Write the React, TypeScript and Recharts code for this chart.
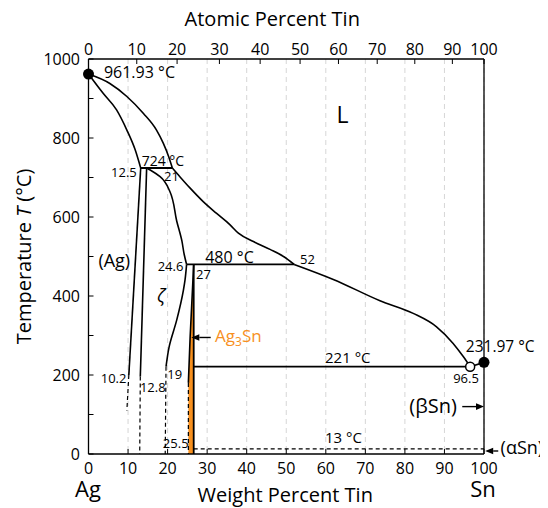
import React from 'react';
import {
  ComposedChart,
  Line,
  Area,
  Scatter,
  XAxis,
  YAxis,
  CartesianGrid,
  ReferenceDot,
  ReferenceLine,
} from 'recharts';

const FONT = '"Open Sans", "Noto Sans", sans-serif';
const ORANGE = '#f7901e';

type P = { x: number; y: number };

// ---- Phase boundaries: x = weight percent Sn, y = temperature (°C)
const liquidusAgSide: P[] = [
  { x: 0, y: 961.93 }, { x: 5.4, y: 938 }, { x: 9.7, y: 905 }, { x: 13.9, y: 862 },
  { x: 17.2, y: 820 }, { x: 18.9, y: 787 }, { x: 20.3, y: 752 }, { x: 21.2, y: 724 },
];
const liquidusMid: P[] = [
  { x: 21.2, y: 724 }, { x: 23.1, y: 702 }, { x: 25.7, y: 673 }, { x: 29.0, y: 639 },
  { x: 32.4, y: 609 }, { x: 35.8, y: 580 }, { x: 37.9, y: 559 }, { x: 41.7, y: 538 },
  { x: 45.9, y: 518 }, { x: 49.3, y: 500 }, { x: 52, y: 480 },
];
const liquidusSnSide: P[] = [
  { x: 52, y: 480 }, { x: 61.9, y: 442 }, { x: 73.7, y: 388 }, { x: 82.1, y: 356 },
  { x: 88.0, y: 322 }, { x: 92.2, y: 280 }, { x: 94.8, y: 246 }, { x: 96.5, y: 221 },
];
const solidusAg: P[] = [
  { x: 0, y: 961.93 }, { x: 3.7, y: 913 }, { x: 7.1, y: 871 }, { x: 9.7, y: 820 },
  { x: 11.8, y: 770 }, { x: 13.2, y: 724 },
];
const solvusAg: P[] = [{ x: 13.2, y: 724 }, { x: 10.2, y: 200 }];
const solvusAgDashed: P[] = [{ x: 10.2, y: 200 }, { x: 9.7, y: 110 }];
const zetaLeft: P[] = [{ x: 14.7, y: 724 }, { x: 13.1, y: 196 }];
const zetaLeftDashed: P[] = [{ x: 13.1, y: 196 }, { x: 12.95, y: 0 }];
const zetaRightUpper: P[] = [
  { x: 14.7, y: 724 }, { x: 15.6, y: 719 }, { x: 18.1, y: 702 }, { x: 20.6, y: 664 },
  { x: 22.3, y: 590 }, { x: 23.6, y: 540 }, { x: 24.2, y: 505 }, { x: 24.8, y: 480 },
];
const zetaRightLower: P[] = [
  { x: 24.8, y: 480 }, { x: 24.4, y: 440 }, { x: 24.0, y: 415 }, { x: 22.3, y: 339 },
  { x: 20.4, y: 272 }, { x: 19.6, y: 221 },
];
const zetaRightDashed: P[] = [{ x: 19.6, y: 221 }, { x: 19.4, y: 0 }];
const ag3snLeft: P[] = [{ x: 26.6, y: 480 }, { x: 25.7, y: 297 }, { x: 25.25, y: 180 }];
const ag3snLeftDashed: P[] = [{ x: 25.25, y: 180 }, { x: 25.25, y: 0 }];
const ag3snRight: P[] = [{ x: 26.6, y: 480 }, { x: 26.6, y: 0 }];
const ag3snField: P[] = [
  { x: 25.25, y: 0 }, { x: 25.25, y: 180 }, { x: 25.7, y: 297 }, { x: 26.6, y: 480 },
];
const isotherm724: P[] = [{ x: 13.2, y: 724 }, { x: 21.2, y: 724 }];
const isotherm480: P[] = [{ x: 24.8, y: 480 }, { x: 52, y: 480 }];
const isotherm221: P[] = [{ x: 26.6, y: 221 }, { x: 96.5, y: 221 }];
const snSolidus: P[] = [{ x: 96.5, y: 221 }, { x: 100, y: 231.97 }];
const isotherm13: P[] = [{ x: 26.6, y: 13 }, { x: 100, y: 13 }];

const meltingPoints: P[] = [{ x: 0, y: 961.93 }, { x: 100, y: 231.97 }];
const eutecticPoint: P[] = [{ x: 96.5, y: 221 }];

// ---- Axes
const weightTicks = [0, 10, 20, 30, 40, 50, 60, 70, 80, 90, 100];
const atomicLabels = [0, 10, 20, 30, 40, 50, 60, 70, 80, 90, 100];
const atomicPositions = [0, 12.2, 22.4, 33.1, 43.4, 53.5, 63.2, 73.0, 82.5, 92.0, 100];
const temperatureTicks = [0, 100, 200, 300, 400, 500, 600, 700, 800, 900, 1000];

// ---- Annotations (text, weight %, °C)
const annotationTexts = [
  '961.93 °C', '724 °C', '12.5', '21', 'L', '(Ag)', '24.6', '480 °C', '52', '27',
  '221 °C', '231.97 °C', '96.5', '10.2', '12.8', '19', '25.5', '13 °C', '(βSn)', '(αSn)', 'Ag', 'Sn',
];
const annotationX = [
  3.9, 13.45, 12.2, 19.1, 62.7, 2.5, 24.0, 29.5, 53.5, 27.2,
  59.8, 95.4, 92.2, 3.1, 13.0, 19.9, 18.8, 59.8, 81.1, 104.2, -3.4, 96.5,
];
const annotationY = [
  951, 728, 702, 690, 837, 474, 463, 484, 480, 442,
  231, 259, 179, 179, 156, 189, 16, 28, 103, -1, -109, -109,
];
const annotationSize = [
  16, 14, 13, 13, 23, 18, 13, 16, 13, 13,
  15, 15.5, 13, 13, 13, 13, 13, 15, 20, 18, 22, 22,
];
const annotationAnchor = [
  'start', 'start', 'end', 'start', 'start', 'start', 'end', 'start', 'start', 'start',
  'start', 'start', 'start', 'start', 'start', 'start', 'start', 'start', 'start', 'start', 'start', 'start',
];

const zetaLabel = { x: 17.3, y: 386 };
const ag3snLabel = { x: 32.0, y: 284 };
const ag3snArrow: P[] = [{ x: 30.9, y: 295 }, { x: 26.0, y: 295 }];
const betaArrow: P[] = [{ x: 94.5, y: 120 }, { x: 100, y: 120 }];
const alphaArrow: P[] = [{ x: 103.6, y: 7.6 }, { x: 100.3, y: 7.6 }];

const LINE = '#000';

const curves: { data: P[]; type: any; dashed?: boolean; width?: number }[] = [
  { data: liquidusAgSide, type: 'monotoneX' },
  { data: liquidusMid, type: 'monotoneX' },
  { data: liquidusSnSide, type: 'monotoneX' },
  { data: solidusAg, type: 'monotoneX' },
  { data: solvusAg, type: 'linear' },
  { data: solvusAgDashed, type: 'linear', dashed: true },
  { data: zetaLeft, type: 'linear' },
  { data: zetaLeftDashed, type: 'linear', dashed: true },
  { data: zetaRightUpper, type: 'monotoneY' },
  { data: zetaRightLower, type: 'monotoneY' },
  { data: zetaRightDashed, type: 'linear', dashed: true },
  { data: ag3snLeft, type: 'monotoneY' },
  { data: ag3snLeftDashed, type: 'linear', dashed: true },
  { data: ag3snRight, type: 'linear', width: 1.8 },
  { data: isotherm724, type: 'linear', width: 1.8 },
  { data: isotherm480, type: 'linear', width: 1.8 },
  { data: isotherm221, type: 'linear', width: 1.8 },
  { data: snSolidus, type: 'linear', width: 1.6 },
  { data: isotherm13, type: 'linear', dashed: true },
];

const Arrow = (p: any) => {
  const { x1, y1, x2, y2 } = p;
  const ang = Math.atan2(y2 - y1, x2 - x1);
  const L = 8;
  const W = 3.3;
  const bx = x2 - L * Math.cos(ang);
  const by = y2 - L * Math.sin(ang);
  const pts = `${x2},${y2} ${bx - W * Math.sin(ang)},${by + W * Math.cos(ang)} ${bx + W * Math.sin(ang)},${by - W * Math.cos(ang)}`;
  return (
    <g>
      <line x1={x1} y1={y1} x2={bx} y2={by} stroke="#000" strokeWidth={1.4} />
      <polygon points={pts} fill="#000" />
    </g>
  );
};

const TopTitle = (p: any) => {
  const vb = p.viewBox || { x: 80.5, y: 21, width: 395.5, height: 30 };
  return (
    <text x={vb.x + vb.width / 2 - 14} y={vb.y - 3.5} textAnchor="middle" fontSize={20} fontFamily={FONT} fill="#000">
      Atomic Percent Tin
    </text>
  );
};
const BottomTitle = (p: any) => {
  const vb = p.viewBox || { x: 80.5, y: 446, width: 395.5, height: 30 };
  return (
    <text x={vb.x + vb.width / 2 - 1} y={vb.y + 48} textAnchor="middle" fontSize={20} fontFamily={FONT} fill="#000">
      Weight Percent Tin
    </text>
  );
};
const LeftTitle = (p: any) => {
  const vb = p.viewBox || { x: 20.5, y: 51, width: 60, height: 395 };
  const cx = vb.x + 2.5;
  const cy = vb.y + vb.height / 2;
  return (
    <text x={cx} y={cy} transform={`rotate(-90 ${cx} ${cy})`} textAnchor="middle" fontSize={20} fontFamily={FONT} fill="#000">
      Temperature <tspan fontStyle="italic">T</tspan> (°C)
    </text>
  );
};

const axisLineStyle = { stroke: '#000', strokeWidth: 1.3 };
const tickLineStyle = { stroke: '#000', strokeWidth: 1 };
const tickText = { fill: '#000', fontSize: 16, fontFamily: FONT };

export default function App() {
  return (
    <ComposedChart
      width={540}
      height={500}
      margin={{ top: 21, right: 34, bottom: 24, left: 20.5 }}
      style={{ fontFamily: FONT }}
    >
      <CartesianGrid horizontal={false} stroke="#d6d6d6" strokeDasharray="5 4" />
      <XAxis
        xAxisId={0}
        dataKey="x"
        type="number"
        domain={[0, 100]}
        ticks={weightTicks}
        interval={0}
        orientation="bottom"
        height={30}
        tickSize={-5}
        tickMargin={13.5}
        axisLine={axisLineStyle}
        tickLine={tickLineStyle}
        tick={tickText}
        label={{ content: BottomTitle }}
      />
      <XAxis
        xAxisId="top"
        dataKey="x"
        type="number"
        domain={[0, 100]}
        ticks={atomicPositions}
        interval={0}
        orientation="top"
        height={30}
        tickSize={-5}
        tickMargin={9}
        tickFormatter={(v: number) => String(atomicLabels[atomicPositions.indexOf(v)])}
        axisLine={axisLineStyle}
        tickLine={tickLineStyle}
        tick={tickText}
        label={{ content: TopTitle }}
      />
      <YAxis
        yAxisId={0}
        type="number"
        domain={[0, 1000]}
        ticks={temperatureTicks}
        interval={0}
        width={60}
        tickSize={-5}
        tickMargin={13.5}
        tickFormatter={(v: number) => (v % 200 === 0 ? String(v) : '')}
        axisLine={axisLineStyle}
        tickLine={tickLineStyle}
        tick={tickText}
        label={{ content: LeftTitle }}
      />
      <YAxis
        yAxisId="right"
        orientation="right"
        type="number"
        domain={[0, 1000]}
        ticks={temperatureTicks}
        interval={0}
        width={30}
        tickSize={-5}
        tick={false}
        axisLine={axisLineStyle}
        tickLine={tickLineStyle}
      />

      {/* invisible series that binds the top and right axes */}
      <Line
        xAxisId="top"
        yAxisId="right"
        data={isotherm13}
        dataKey="y"
        stroke="transparent"
        strokeWidth={0}
        dot={false}
        activeDot={false}
        isAnimationActive={false}
        legendType="none"
      />

      <Area
        data={ag3snField}
        dataKey="y"
        type="linear"
        baseValue={0}
        stroke="none"
        fill={ORANGE}
        fillOpacity={1}
        dot={false}
        activeDot={false}
        isAnimationActive={false}
        legendType="none"
      />

      {curves.map((c, i) => (
        <Line
          key={i}
          data={c.data}
          dataKey="y"
          type={c.type}
          stroke={LINE}
          strokeWidth={c.width ?? (c.dashed ? 1.2 : 1.6)}
          strokeDasharray={c.dashed ? '4 3' : undefined}
          dot={false}
          activeDot={false}
          isAnimationActive={false}
          legendType="none"
        />
      ))}

      <Scatter
        data={meltingPoints}
        dataKey="y"
        isAnimationActive={false}
        legendType="none"
        shape={(p: any) => <circle cx={p.cx} cy={p.cy} r={5.5} fill="#000" />}
      />
      <Scatter
        data={eutecticPoint}
        dataKey="y"
        isAnimationActive={false}
        legendType="none"
        shape={(p: any) => <circle cx={p.cx} cy={p.cy} r={4.5} fill="#fff" stroke="#000" strokeWidth={1.5} />}
      />

      <ReferenceLine segment={ag3snArrow} ifOverflow="visible" shape={Arrow} />
      <ReferenceLine segment={betaArrow} ifOverflow="visible" shape={Arrow} />
      <ReferenceLine segment={alphaArrow} ifOverflow="visible" shape={Arrow} />

      {annotationTexts.map((t, i) => (
        <ReferenceDot
          key={'a' + i}
          x={annotationX[i]}
          y={annotationY[i]}
          r={0}
          ifOverflow="visible"
          shape={(p: any) => (
            <text x={p.cx} y={p.cy} fontSize={annotationSize[i]} textAnchor={annotationAnchor[i]} fontFamily={FONT} fill="#000">
              {t}
            </text>
          )}
        />
      ))}
      <ReferenceDot
        x={zetaLabel.x}
        y={zetaLabel.y}
        r={0}
        ifOverflow="visible"
        shape={(p: any) => (
          <text x={p.cx} y={p.cy} fontSize={18} fontStyle="italic" fontFamily={FONT} fill="#000">
            ζ
          </text>
        )}
      />
      <ReferenceDot
        x={ag3snLabel.x}
        y={ag3snLabel.y}
        r={0}
        ifOverflow="visible"
        shape={(p: any) => (
          <text x={p.cx} y={p.cy} fontSize={17} fontFamily={FONT} fill={ORANGE}>
            Ag<tspan dy={4} fontSize={12}>3</tspan>
            <tspan dy={-4}>Sn</tspan>
          </text>
        )}
      />
    </ComposedChart>
  );
}
